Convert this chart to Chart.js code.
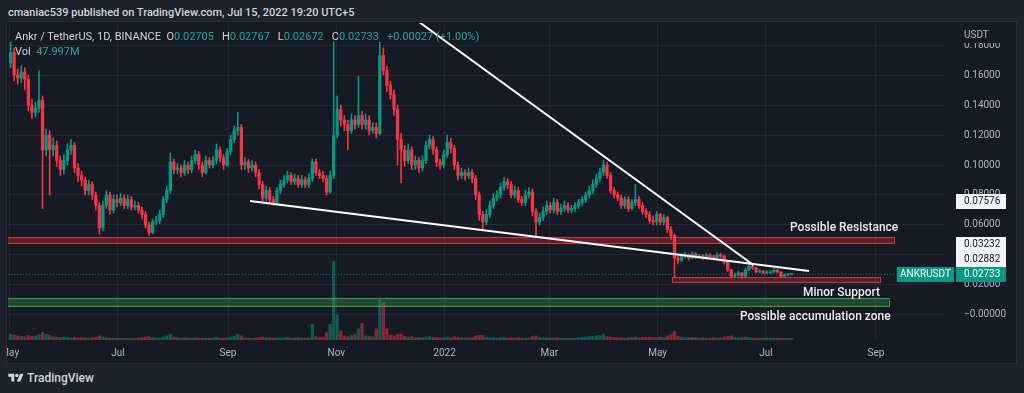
<!DOCTYPE html>
<html>
<head>
<meta charset="utf-8">
<script src="https://cdn.jsdelivr.net/npm/chart.js@4.4.1/dist/chart.umd.min.js"></script>
<style>
  html, body { margin: 0; padding: 0; width: 1024px; height: 393px; overflow: hidden; background: #1e222d; font-family: Roboto, "Liberation Sans", sans-serif; }
  #head { position: absolute; left: 8px; top: 6px; font-size: 11px; font-weight: 500; color: #d1d4dc; white-space: nowrap; }
  #panel { position: absolute; left: 7px; top: 22px; width: 1009px; height: 341px; background: #161a25; outline: 1px solid #2a2e39; }
  #panel canvas { display: block; }
  #legend { position: absolute; left: 15px; top: 29px; font-size: 11px; color: #d1d4dc; line-height: 15px; white-space: nowrap; }
  #legend .v { color: #22ab94; margin-right: 8px; }
  #foot { position: absolute; left: 8px; top: 371px; display: flex; align-items: center; gap: 3px; color: #d1d4dc; font-size: 12px; font-weight: 500; }
</style>
</head>
<body>
<div id="head">cmaniac539 published on TradingView.com, Jul 15, 2022 19:20 UTC+5</div>
<div id="panel"><canvas id="myChart" width="1009" height="341"></canvas></div>
<div id="legend">
  <div>Ankr / TetherUS, 1D, BINANCE&nbsp; O<span class="v">0.02705</span>H<span class="v">0.02767</span>L<span class="v">0.02672</span>C<span class="v">0.02733</span><span class="v">+0.00027 (+1.00%)</span></div>
  <div>Vol&nbsp; <span class="v">47.997M</span></div>
</div>
<div id="foot">
  <svg width="16" height="12" viewBox="0 0 36 28"><path fill="#d1d4dc" d="M14 22H7V11H0V4h14v18z"/><circle fill="#d1d4dc" cx="20" cy="8" r="4"/><path fill="#d1d4dc" d="M28 22h-8l7.5-18h8L28 22z"/></svg>
  <span>TradingView</span>
</div>
<script>
// 2-day candles, starting 1 May 2021 (day 0)
const candleStep = 2;
const firstDay = 0.5;

const open = [
  .168,.175,.160,.158,.162,.157,.140,.135,.138,.143,
  .110,.120,.110,.113,.103,.097,.103,.110,.113,.098,
  .093,.090,.083,.087,.080,.073,.058,.073,.080,.070,
  .077,.075,.078,.073,.077,.072,.073,.070,.067,.060,
  .055,.062,.063,.067,.077,.083,.102,.097,.098,.095,
  .100,.097,.103,.107,.100,.095,.103,.100,.103,.110,
  .105,.100,.109,.117,.123,.125,.100,.102,.098,.100,
  .095,.087,.078,.083,.077,.075,.083,.087,.090,.093,
  .089,.091,.087,.090,.087,.091,.102,.095,.093,.091,
  .082,.093,.120,.137,.130,.127,.123,.130,.127,.133,
  .127,.130,.123,.125,.121,.173,.163,.153,.147,.137,
  .117,.110,.103,.110,.100,.103,.098,.103,.113,.117,
  .110,.102,.100,.107,.115,.111,.100,.093,.095,.093,
  .095,.091,.080,.067,.062,.067,.073,.078,.080,.085,
  .089,.087,.080,.083,.077,.075,.080,.082,.069,.062,
  .065,.069,.073,.070,.075,.069,.071,.073,.070,.071,
  .073,.075,.077,.080,.083,.087,.091,.095,.100,.093,
  .083,.080,.078,.073,.077,.071,.075,.077,.073,.069,
  .067,.063,.062,.067,.062,.065,.057,.053,.038,.0367,
  .0393,.0400,.0380,.0407,.0387,.0393,.0380,.0400,.0387,.0380,
  .0400,.0393,.0353,.0300,.0260,.0267,.0280,.0260,.0300,.0327,
  .0313,.0287,.0293,.0280,.0287,.0287,.0300,.0287,.0260,.0267,
  .0270
];
const high = [
  .182,.178,.164,.166,.165,.160,.144,.142,.163,.146,
  .124,.123,.118,.116,.106,.107,.114,.117,.115,.101,
  .096,.092,.090,.089,.082,.075,.076,.083,.082,.080,
  .080,.081,.080,.080,.079,.076,.075,.072,.069,.062,
  .064,.066,.070,.079,.086,.108,.104,.101,.100,.103,
  .102,.106,.110,.109,.102,.106,.105,.106,.114,.112,
  .107,.111,.120,.126,.135,.127,.105,.104,.103,.102,
  .097,.089,.086,.085,.079,.085,.090,.093,.096,.095,
  .094,.093,.093,.092,.094,.104,.104,.097,.096,.093,
  .096,.182,.146,.140,.133,.130,.134,.133,.159,.136,
  .134,.133,.128,.128,.182,.178,.166,.156,.150,.140,
  .121,.113,.114,.112,.106,.105,.106,.116,.120,.119,
  .112,.104,.110,.120,.118,.113,.102,.098,.097,.098,
  .097,.093,.082,.069,.070,.076,.081,.083,.088,.092,
  .091,.089,.086,.085,.079,.083,.085,.084,.071,.068,
  .072,.076,.075,.078,.077,.074,.076,.075,.073,.075,
  .077,.079,.082,.086,.090,.094,.098,.103,.102,.095,
  .085,.082,.080,.079,.079,.077,.087,.079,.075,.071,
  .069,.066,.069,.068,.067,.066,.059,.054,.0395,.0410,
  .0420,.0410,.0420,.0415,.0405,.0402,.0412,.0410,.0398,.0415,
  .0410,.0398,.0360,.0305,.0280,.0292,.0285,.0312,.0340,.0333,
  .0318,.0302,.0298,.0295,.0295,.0308,.0305,.0290,.0275,.0278,
  .02767
];
const low = [
  .165,.156,.154,.155,.150,.136,.131,.132,.135,.071,
  .106,.080,.106,.099,.093,.094,.100,.107,.095,.089,
  .086,.080,.080,.077,.070,.054,.056,.071,.067,.068,
  .072,.073,.071,.071,.070,.070,.068,.064,.058,.053,
  .054,.060,.061,.065,.075,.081,.094,.094,.092,.093,
  .094,.095,.101,.097,.092,.094,.098,.098,.101,.102,
  .097,.099,.107,.115,.120,.097,.097,.095,.096,.092,
  .084,.076,.076,.075,.073,.074,.081,.085,.088,.087,
  .087,.085,.085,.085,.085,.089,.093,.091,.089,.080,
  .081,.091,.118,.126,.123,.110,.121,.124,.125,.124,
  .124,.120,.121,.118,.120,.160,.149,.144,.133,.100,
  .088,.099,.101,.097,.097,.095,.096,.101,.111,.107,
  .099,.097,.098,.105,.108,.097,.090,.091,.090,.091,
  .088,.077,.063,.057,.060,.065,.071,.076,.078,.083,
  .084,.078,.078,.075,.073,.073,.078,.066,.052,.060,
  .063,.067,.068,.068,.067,.067,.069,.068,.068,.069,
  .071,.073,.075,.078,.081,.085,.089,.093,.091,.081,
  .078,.076,.071,.071,.069,.070,.073,.071,.067,.065,
  .061,.060,.060,.060,.060,.055,.050,.0253,.0340,.0355,
  .0380,.0365,.0372,.0375,.0378,.0370,.0372,.0378,.0370,.0375,
  .0380,.0340,.0290,.0245,.0250,.0258,.0248,.0255,.0295,.0305,
  .0280,.0282,.0275,.0276,.0280,.0283,.0280,.0255,.0256,.0262,
  .02672
];
const close = [
  .175,.160,.158,.162,.157,.140,.135,.138,.143,.110,
  .120,.110,.113,.103,.097,.103,.110,.113,.098,.093,
  .090,.083,.087,.080,.073,.058,.073,.080,.070,.077,
  .075,.078,.073,.077,.072,.073,.070,.067,.060,.055,
  .062,.063,.067,.077,.083,.102,.097,.098,.095,.100,
  .097,.103,.107,.100,.095,.103,.100,.103,.110,.105,
  .100,.109,.117,.123,.125,.100,.102,.098,.100,.095,
  .087,.078,.083,.077,.075,.083,.087,.090,.093,.089,
  .091,.087,.090,.087,.091,.102,.095,.093,.091,.082,
  .093,.120,.137,.130,.127,.123,.130,.127,.133,.127,
  .130,.123,.125,.121,.173,.163,.153,.147,.137,.117,
  .110,.103,.110,.100,.103,.098,.103,.113,.117,.110,
  .102,.100,.107,.115,.111,.100,.093,.095,.093,.095,
  .091,.080,.067,.062,.067,.073,.078,.080,.085,.089,
  .087,.080,.083,.077,.075,.080,.082,.069,.062,.065,
  .069,.073,.070,.075,.069,.071,.073,.070,.071,.073,
  .075,.077,.080,.083,.087,.091,.095,.100,.093,.083,
  .080,.078,.073,.077,.071,.075,.077,.073,.069,.067,
  .063,.062,.067,.062,.065,.057,.053,.038,.0367,.0393,
  .0400,.0380,.0407,.0387,.0393,.0380,.0400,.0387,.0380,.0400,
  .0393,.0353,.0300,.0260,.0267,.0280,.0260,.0300,.0327,.0313,
  .0287,.0293,.0280,.0287,.0287,.0300,.0287,.0260,.0267,.0270,
  .02733
];
// volume, millions
const volume = [
  30,26,22,20,18,24,20,22,28,42,
  30,26,18,16,14,16,14,12,14,12,
  12,12,10,12,14,22,16,12,10,10,
  9,9,8,9,8,8,10,12,16,18,
  12,10,10,16,22,30,16,12,10,12,
  10,9,12,10,9,10,9,10,14,10,
  10,12,16,20,30,22,12,10,9,10,
  14,16,12,12,10,12,10,12,14,10,
  10,12,10,10,12,85,18,12,14,40,
  85,420,135,50,22,18,24,30,60,90,
  22,20,18,60,215,200,60,26,22,30,
  32,20,16,18,14,14,12,16,18,14,
  14,12,12,16,12,18,14,12,10,10,
  12,22,26,24,14,12,12,10,12,14,
  10,12,10,12,10,10,10,18,22,14,
  12,12,10,10,12,10,10,9,10,10,
  12,14,16,18,20,22,24,30,18,16,
  14,12,12,10,12,14,16,12,14,14,
  16,14,14,16,14,22,30,45,20,16,
  14,12,14,12,10,12,10,10,12,10,
  10,16,20,22,14,12,14,16,14,10,
  10,10,9,10,9,9,10,10,9,9,
  8
];

// axes
const monthDays = [0, 61, 123, 184, 245, 304, 365, 426, 488];
const monthLabels = ['May', 'Jul', 'Sep', 'Nov', '2022', 'Mar', 'May', 'Jul', 'Sep'];
const priceTicks = [0, 0.02, 0.04, 0.06, 0.08, 0.10, 0.12, 0.14, 0.16, 0.18];
const priceLabels = ['\u22120.00000', '0.02000', '0.04000', '0.06000', '0.08000', '0.10000', '0.12000', '0.14000', '0.16000', '0.18000'];

// drawings on the chart (day, price)
const zoneFrom = [-5, 373, -5];
const zoneTo = [498, 490, 495];
const zoneLow = [0.048, 0.022, 0.006];
const zoneHigh = [0.052, 0.0253, 0.0113];
const zoneRgb = ['242,54,69', '242,54,69', '76,175,80'];
const trendStart = [[231, 0.195], [135.4, 0.076]];
const trendEnd = [[419, 0.0333], [450.3, 0.0293]];
const noteText = ['Possible Resistance', 'Minor Support', 'Possible accumulation zone'];
const noteDay = [439.6, 446.9, 411.4];
const noteValue = [0.058, 0.0147, -0.0013];
const markerValues = [0.07576, 0.03232, 0.02882];

const UP = '#089981', DOWN = '#f23645';
const days = close.map((_, i) => firstDay + i * candleStep);
const colors = close.map((c, i) => c >= open[i] ? UP : DOWN);
const volColors = close.map((c, i) => c >= open[i] ? 'rgba(8,153,129,0.5)' : 'rgba(242,54,69,0.5)');
const lastPrice = close[close.length - 1];

function box(ctx, x, yc, w, bg, fg, text, align) {
  ctx.fillStyle = bg;
  ctx.fillRect(x, Math.round(yc - 7.5), w, 15);
  ctx.fillStyle = fg;
  ctx.textAlign = align;
  ctx.textBaseline = 'middle';
  ctx.fillText(text, align === 'center' ? x + w / 2 : x + 8, yc + 0.5);
}

const drawings = {
  id: 'drawings',
  afterDatasetsDraw(chart) {
    const {ctx, chartArea: a, scales: {x, y}} = chart;
    ctx.save();
    ctx.beginPath();
    ctx.rect(a.left, a.top, a.right - a.left, a.bottom - a.top);
    ctx.clip();

    // last price dotted line
    const py = Math.round(y.getPixelForValue(lastPrice)) + 0.5;
    ctx.strokeStyle = 'rgba(8,153,129,0.8)';
    ctx.lineWidth = 1;
    ctx.setLineDash([1, 2]);
    ctx.beginPath(); ctx.moveTo(a.left, py); ctx.lineTo(a.right, py); ctx.stroke();
    ctx.setLineDash([]);

    zoneFrom.forEach((f, i) => {
      const x1 = x.getPixelForValue(f), x2 = x.getPixelForValue(zoneTo[i]);
      const y1 = Math.round(y.getPixelForValue(zoneHigh[i])) + 0.5;
      const y2 = Math.round(y.getPixelForValue(zoneLow[i])) + 0.5;
      ctx.fillStyle = 'rgba(' + zoneRgb[i] + ',0.3)';
      ctx.fillRect(x1, y1, x2 - x1, y2 - y1);
      ctx.strokeStyle = 'rgba(' + zoneRgb[i] + ',0.85)';
      ctx.strokeRect(Math.round(x1) + 0.5, y1, Math.round(x2 - x1), y2 - y1);
    });

    ctx.strokeStyle = '#ffffff';
    ctx.lineWidth = 2;
    trendStart.forEach((s, i) => {
      ctx.beginPath();
      ctx.moveTo(x.getPixelForValue(s[0]), y.getPixelForValue(s[1]));
      ctx.lineTo(x.getPixelForValue(trendEnd[i][0]), y.getPixelForValue(trendEnd[i][1]));
      ctx.stroke();
    });

    ctx.fillStyle = '#e8eaf0';
    ctx.font = '500 12px Roboto';
    ctx.textAlign = 'left';
    ctx.textBaseline = 'middle';
    noteText.forEach((t, i) => {
      ctx.fillText(t, x.getPixelForValue(noteDay[i]), y.getPixelForValue(noteValue[i]));
    });
    ctx.restore();
  },
  afterDraw(chart) {
    const {ctx, chartArea: a, scales: {y}} = chart;
    ctx.save();
    // currency caption over the top of the price scale
    ctx.fillStyle = '#161a25';
    ctx.fillRect(y.left + 1, a.top, y.width - 3, 20);
    ctx.fillStyle = '#b2b5be';
    ctx.font = '10px Roboto';
    ctx.textAlign = 'left';
    ctx.textBaseline = 'middle';
    ctx.fillText('USDT', y.left + 19, a.top + 12);

    // price labels, pushed up so they do not overlap
    const bx = y.left + 11;
    let prev = y.getPixelForValue(lastPrice);
    box(ctx, bx, prev, 50, UP, '#ffffff', lastPrice.toFixed(5), 'left');
    box(ctx, y.left - 48, prev, 57, UP, '#ffffff', 'ANKRUSDT', 'center');
    [...markerValues].sort((p, q) => p - q).forEach(v => {
      const yc = Math.min(y.getPixelForValue(v), prev - 15);
      box(ctx, bx, yc, 50, '#f0f3fa', '#131722', v.toFixed(5), 'left');
      prev = yc;
    });
    ctx.restore();
  }
};

let ctx = document.getElementById('myChart').getContext('2d');
let myChart = new Chart(ctx, {
  type: 'bar',
  data: {
    datasets: [
      {
        label: 'Wick',
        data: days.map((d, i) => ({x: d, y: [low[i], high[i]]})),
        backgroundColor: colors,
        barThickness: 1,
        grouped: false,
        order: 2,
        yAxisID: 'y'
      },
      {
        label: 'Body',
        data: days.map((d, i) => ({x: d, y: [open[i], close[i]]})),
        backgroundColor: colors,
        barThickness: 2.6,
        minBarLength: 1,
        grouped: false,
        order: 1,
        yAxisID: 'y'
      },
      {
        label: 'Volume',
        data: days.map((d, i) => ({x: d, y: volume[i]})),
        backgroundColor: volColors,
        barThickness: 2.6,
        grouped: false,
        order: 3,
        yAxisID: 'yVol'
      }
    ]
  },
  options: {
    responsive: false,
    animation: false,
    events: [],
    layout: { padding: { left: 1, top: 1, right: 0, bottom: 0 } },
    plugins: { legend: { display: false }, tooltip: { enabled: false } },
    scales: {
      x: {
        type: 'linear',
        min: -0.96,
        max: 526.9,
        offset: false,
        grid: { color: 'rgba(42,46,57,0.7)', drawTicks: false, offset: false },
        border: { display: false },
        afterBuildTicks: s => { s.ticks = monthDays.map(v => ({value: v})); },
        afterFit: s => { s.height = 23; s.paddingLeft = 0; s.paddingRight = 0; },
        ticks: {
          autoSkip: false,
          maxRotation: 0,
          padding: 7,
          color: '#b2b5be',
          font: { family: 'Roboto', size: 10 },
          callback: (v, i) => monthLabels[i]
        }
      },
      y: {
        position: 'right',
        min: -0.016667,
        max: 0.194667,
        grid: { color: 'rgba(42,46,57,0.7)', drawTicks: false },
        border: { display: false },
        afterBuildTicks: s => { s.ticks = priceTicks.map(v => ({value: v})); },
        afterFit: s => { s.width = 71; s.paddingTop = 0; s.paddingBottom = 0; },
        ticks: {
          padding: 19,
          color: '#b2b5be',
          font: { family: 'Roboto', size: 10 },
          callback: (v, i) => priceLabels[i]
        }
      },
      yVol: {
        display: false,
        min: 0,
        max: 1700
      }
    }
  },
  plugins: [drawings]
});
</script>
</body>
</html>
